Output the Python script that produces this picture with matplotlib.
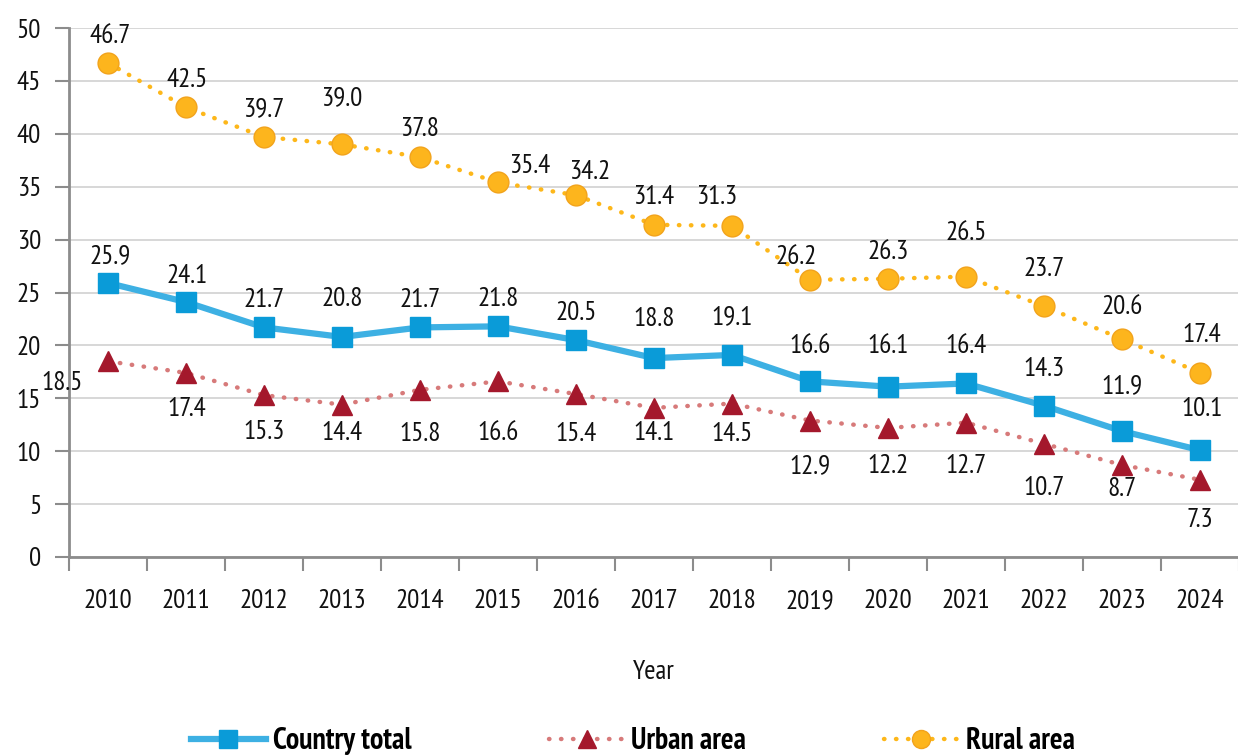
import matplotlib
matplotlib.use("Agg")
import matplotlib.pyplot as plt
from matplotlib import font_manager as fm
from matplotlib.lines import Line2D

years = ["2010", "2011", "2012", "2013", "2014", "2015", "2016", "2017",
         "2018", "2019", "2020", "2021", "2022", "2023", "2024"]
country_total = [25.9, 24.1, 21.7, 20.8, 21.7, 21.8, 20.5, 18.8, 19.1, 16.6, 16.1, 16.4, 14.3, 11.9, 10.1]
urban_area = [18.5, 17.4, 15.3, 14.4, 15.8, 16.6, 15.4, 14.1, 14.5, 12.9, 12.2, 12.7, 10.7, 8.7, 7.3]
rural_area = [46.7, 42.5, 39.7, 39.0, 37.8, 35.4, 34.2, 31.4, 31.3, 26.2, 26.3, 26.5, 23.7, 20.6, 17.4]

# label offsets in pixels (dx, dy) relative to marker, screen coords (dy positive = up)
rural_off = [(2, 27), (1, 27), (0, 28), (0, 46), (0, 28), (32, 16), (14, 23), (0, 28),
             (-15, 29), (-14, 23), (0, 27), (0, 44), (0, 37), (0, 32), (2, 38)]
country_off = [(2, 27), (1, 26), (0, 27), (0, 38), (0, 27), (0, 27), (0, 27), (0, 39),
               (0, 38), (0, 35), (0, 41), (0, 37), (0, 37), (0, 45), (2, 41)]
urban_off = [(-46, -22), (1, -36), (0, -37), (0, -28), (0, -44), (0, -52), (0, -40), (0, -25),
             (0, -30), (0, -46), (0, -38), (0, -43), (0, -44), (0, -24), (0, -40)]

names = {f.name for f in fm.fontManager.ttflist}
prefs = ["PT Sans Narrow", "Roboto Condensed", "Fira Sans Condensed", "Open Sans Condensed",
         "Archivo Narrow", "Liberation Sans Narrow"]
main = next((p for p in prefs if p in names), "DejaVu Sans")
fam = [main, "DejaVu Sans"]
plt.rcParams["font.family"] = fam

W, H, DPI = 1238, 756, 100
fig = plt.figure(figsize=(W / DPI, H / DPI), dpi=DPI)
ax = fig.add_axes([69 / W, 1 - 557 / H, (1239 - 69) / W, (557 - 28) / H])

x = list(range(len(years)))
blue_line = "#3db0e3"
blue_mk = "#0a9bd8"
red_line = "#d77a7a"
red_mk = "#a4182c"
orange = "#fdb71a"
orange_edge = "#f2a31b"
dots = (0, (0.1, 2.6))

ax.plot(x, rural_area, color=orange, lw=3.2, linestyle=dots, dash_capstyle="round",
        marker="o", ms=15, mfc="#fdb51d", mec=orange_edge, mew=1, zorder=3)
ax.plot(x, urban_area, color=red_line, lw=3.2, linestyle=dots, dash_capstyle="round",
        marker="^", ms=15, mfc=red_mk, mec=red_mk, zorder=4)
ax.plot(x, country_total, color=blue_line, lw=4.5, solid_capstyle="butt",
        marker="s", ms=15, mfc=blue_mk, mec=blue_mk, zorder=5)

fs = 19.5
txtc = "#111111"
px2pt = 72 / DPI
for vals, offs in ((rural_area, rural_off), (country_total, country_off), (urban_area, urban_off)):
    for i, (v, (dx, dy)) in enumerate(zip(vals, offs)):
        ax.annotate(f"{v:.1f}", (i, v), xytext=(dx * px2pt, dy * px2pt), textcoords="offset points",
                    ha="center", va="center", fontsize=fs, color=txtc, zorder=6)

ax.set_xlim(-0.5, len(years) - 0.5)
ax.set_ylim(0, 50)
ax.set_yticks(range(0, 51, 5))
ax.set_xticks(x)
ax.set_xticklabels(years, fontsize=fs, color=txtc)
ax.set_xticks([i - 0.5 for i in range(len(years) + 1)], minor=True)
ax.tick_params(axis="x", which="major", length=0, pad=23)
ax.tick_params(axis="x", which="minor", length=10, width=1.5, color="#8c8c8c")
ax.tick_params(axis="y", length=10, width=1.5, color="#8c8c8c", labelsize=fs, pad=10,
               labelcolor=txtc)
ax.yaxis.grid(True, color="#d4d4d4", lw=1.3)
ax.set_axisbelow(True)
for s in ("top", "right"):
    ax.spines[s].set_visible(False)
for s in ("left", "bottom"):
    ax.spines[s].set_color("#8c8c8c")
    ax.spines[s].set_linewidth(2)

fig.text((69 + 1239) / 2 / W, 1 - 672 / H, "Year", ha="center", va="center", fontsize=fs, color=txtc)

handles = [
    Line2D([], [], color=blue_line, lw=4.5, marker="s", ms=13, mfc=blue_mk, mec=blue_mk),
    Line2D([], [], color=red_line, lw=3.2, linestyle=dots, dash_capstyle="round",
           marker="^", ms=13, mfc=red_mk, mec=red_mk),
    Line2D([], [], color=orange, lw=3.2, linestyle=dots, dash_capstyle="round",
           marker="o", ms=13, mfc="#fdb51d", mec=orange_edge),
]
leg = fig.legend(handles, ["Country total", "Urban area", "Rural area"], loc="center",
                 bbox_to_anchor=(633 / W, 1 - 741 / H), ncol=3, frameon=False,
                 prop={"size": 21.5, "weight": "bold", "family": fam},
                 handlelength=2.5, columnspacing=4.6, handletextpad=0.25)
for t in leg.get_texts():
    t.set_color("#000000")

fig.savefig("out.png", dpi=DPI)
